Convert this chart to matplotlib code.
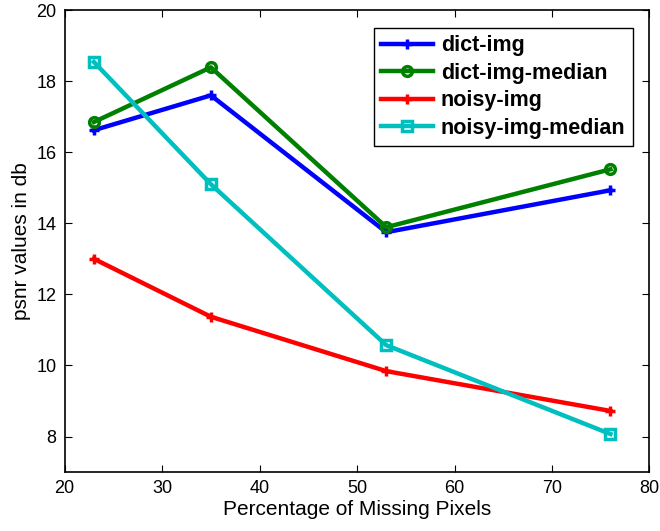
import matplotlib
matplotlib.use('Agg')
import matplotlib.pyplot as plt

plt.rcParams['font.family'] = ['Liberation Sans', 'DejaVu Sans']

# percentage of missing pixels
x = [23, 35, 53, 76]
dict_img = [16.62, 17.6, 13.75, 14.93]
dict_img_median = [16.85, 18.39, 13.89, 15.52]
noisy_img = [13.0, 11.37, 9.84, 8.72]
noisy_img_median = [18.54, 15.1, 10.57, 8.07]

names = ['dict-img', 'dict-img-median', 'noisy-img', 'noisy-img-median']
colors = ['#0000ff', '#008000', '#ff0000', '#00bfbf']
markers = ['+', 'o', '+', 's']
series = [dict_img, dict_img_median, noisy_img, noisy_img_median]

fig = plt.figure(figsize=(6.6, 5.31), dpi=100)
ax = fig.add_axes([0.098, 0.111, 0.886, 0.87])

for ys, nm, c, m in zip(series, names, colors, markers):
    ax.plot(x, ys, color=c, marker=m, lw=3.2, ms=7, mew=2.5,
            mfc='none', label=nm)

ax.set_xlim(20, 80)
ax.set_ylim(7, 20)
ax.set_xticks(range(20, 81, 10))
ax.set_yticks(range(8, 21, 2))
ax.tick_params(direction='in', top=True, right=True, labelsize=13,
               length=5, pad=6)
for s in ax.spines.values():
    s.set_linewidth(1.2)

ax.set_xlabel('Percentage of Missing Pixels', fontsize=15, labelpad=2)
ax.set_ylabel('psnr values in db', fontsize=15, labelpad=4)

leg = ax.legend(loc='upper right', prop={'weight': 'bold', 'size': 15.5},
                fancybox=False, edgecolor='black', framealpha=1,
                handlelength=2.4, handletextpad=0.35, borderpad=0.35,
                labelspacing=0.3, bbox_to_anchor=(0.99, 0.985))
leg.get_frame().set_linewidth(1.0)

fig.savefig('out.png')
